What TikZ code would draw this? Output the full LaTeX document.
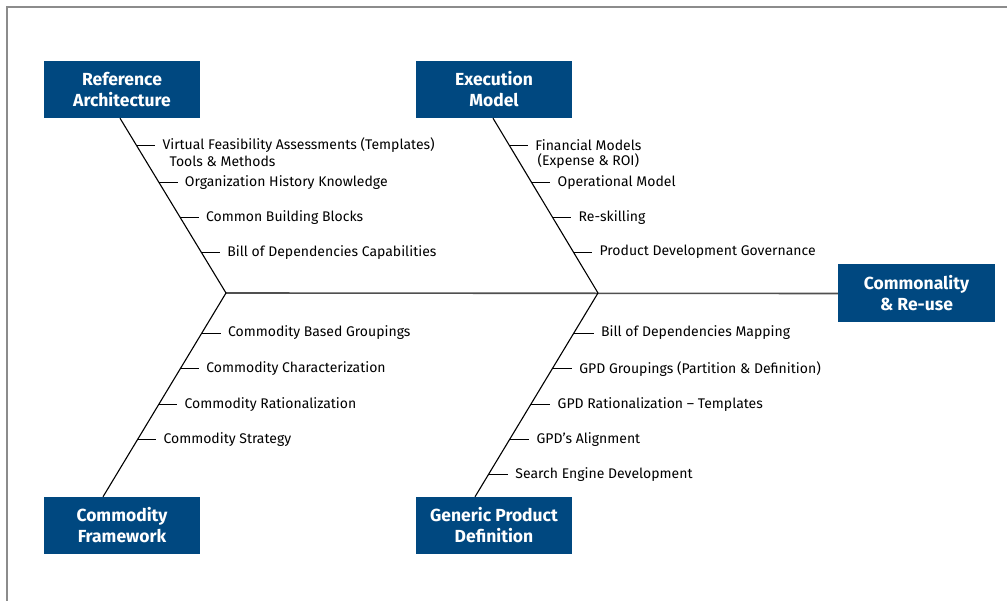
\documentclass[tikz,border=0pt]{standalone}
\usepackage{fontspec}
\setmainfont{Fira Sans}
\usetikzlibrary{calc}
\definecolor{boxblue}{RGB}{0,72,128}
\definecolor{framegray}{RGB}{140,140,140}
\definecolor{spinegray}{RGB}{80,80,80}
\begin{document}
\begin{tikzpicture}[x=1pt,y=-1pt,
  catbox/.style={fill=boxblue, text=white, minimum width=156pt, minimum height=57pt,
    align=center, inner sep=0pt, font=\fontsize{17.5}{21}\selectfont\bfseries},
  bone/.style={draw=black, line width=1.1pt},
  spine/.style={draw=spinegray, line width=1.6pt},
  tick/.style={draw=black, line width=0.9pt},
  cause/.style={anchor=west, inner sep=0pt, font=\fontsize{14}{16}\selectfont},
  ]
\useasboundingbox (0,0) rectangle (1007,601);
% partial frame
\draw[framegray, line width=1.3pt] (7,601) -- (7,7) -- (1007,7);

% category boxes
\node[catbox] (ref)  at (122,89.5)  {Reference\\Architecture};
\node[catbox] (exec) at (494,89.5)  {Execution\\Model};
\node[catbox, minimum width=157pt, minimum height=58pt] (goal) at (916.5,293.5) {Commonality\\\& Re-use};
\node[catbox] (comm) at (122,525.5) {Commodity\\Framework};
\node[catbox] (gpd)  at (494,525.5) {Generic Product\\Definition};

% bone junctions on the spine
\coordinate (J1) at (226,293);
\coordinate (J2) at (598,293);
\coordinate (rtop) at ([xshift=-2pt]ref.south);
\coordinate (etop) at ([xshift=-1pt]exec.south);
\coordinate (cbot) at ([xshift=-19pt]comm.north);
\coordinate (gbot) at ([xshift=-19pt]gpd.north);

% spine and bones
\draw[spine] (J1) -- (goal.west);
\draw[bone] (rtop) -- (J1) -- (cbot);
\draw[bone] (etop) -- (J2) -- (gbot);

% upper-left causes
\foreach \yy/\txt [count=\i] in {145/{Virtual Feasibility Assessments (Templates)},
    182/{Organization History Knowledge}, 217/{Common Building Blocks},
    252/{Bill of Dependencies Capabilities}} {
  \coordinate (r\i) at ($(rtop)!{(\yy-118)/175}!(J1)$);
  \node[cause] (rl\i) at ([xshift=26pt]r\i) {\txt};
  \draw[tick] (r\i) -- ([xshift=-7pt]rl\i.west);
}
\node[cause] (rl1b) at ([xshift=7pt,yshift=-16pt]rl1.west) {Tools \& Methods};

% upper-right causes
\foreach \yy/\txt [count=\i] in {145/{Financial Models},
    182/{Operational Model}, 217/{Re-skilling},
    252/{Product Development Governance}} {
  \coordinate (e\i) at ($(etop)!{(\yy-118)/175}!(J2)$);
  \node[cause] (el\i) at ([xshift=26pt]e\i) {\txt};
  \draw[tick] (e\i) -- ([xshift=-7pt]el\i.west);
}
\node[cause, anchor=center] (el1b) at ([yshift=-16pt]el1.center) {(Expense \& ROI)};

% lower-left causes
\foreach \yy/\txt [count=\i] in {333/{Commodity Based Groupings},
    369/{Commodity Characterization}, 405/{Commodity Rationalization},
    440/{Commodity Strategy}} {
  \coordinate (c\i) at ($(J1)!{(\yy-293)/204}!(cbot)$);
  \node[cause] (cl\i) at ([xshift=26pt]c\i) {\txt};
  \draw[tick] (c\i) -- ([xshift=-7pt]cl\i.west);
}

% lower-right causes
\foreach \yy/\txt [count=\i] in {333/{Bill of Dependencies Mapping},
    369/{GPD Groupings (Partition \& Definition)},
    405/{GPD Rationalization -- Templates},
    440/{GPD’s Alignment}, 475/{Search Engine Development}} {
  \coordinate (g\i) at ($(J2)!{(\yy-293)/204}!(gbot)$);
  \node[cause] (gl\i) at ([xshift=27pt]g\i) {\txt};
  \draw[tick] (g\i) -- ([xshift=-7pt]gl\i.west);
}
\end{tikzpicture}
\end{document}
